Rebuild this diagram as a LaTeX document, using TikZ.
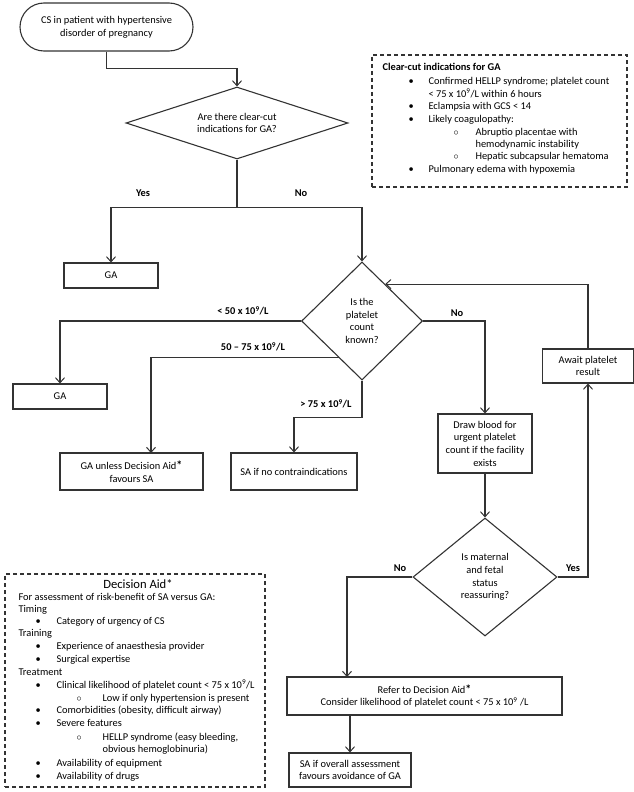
\documentclass[tikz,border=0pt]{standalone}
\usepackage{fontspec}
\setmainfont{Carlito}
\usetikzlibrary{shapes.geometric,arrows.meta,calc}
\begin{document}
\begin{tikzpicture}[x=1pt,y=-1pt,
  font=\fontsize{10.4}{12.7}\selectfont,
  line width=1.1pt,
  arr/.style={draw=black!80, line width=1.1pt, -{Straight Barb[length=5pt,width=9pt,line width=1pt]}},
  box/.style={draw=black!80, line width=1.1pt, rectangle, inner sep=0pt, align=center},
  dia/.style={draw=black!80, line width=1.1pt, diamond, inner sep=0pt, align=center},
  lbl/.style={font=\fontsize{10.4}{12}\selectfont\bfseries, inner sep=0pt},
  txt/.style={anchor=mid west, inner sep=0pt},
  dbox/.style={draw=black!80, line width=1.1pt, dash pattern=on 4pt off 3pt, rectangle, inner sep=0pt}
]
\useasboundingbox (0,0) rectangle (634,792);

% main nodes
\node[box, minimum width=173pt, minimum height=48pt, rounded corners=24pt] (start) at (106.5,27) {CS in patient with hypertensive\\disorder of pregnancy};
\node[dia, shape aspect=3.08, minimum width=222pt, minimum height=72pt] (d1) at (237,123) {Are there clear-cut\\indications for GA?};
\node[box, minimum width=94pt, minimum height=25pt] (ga1) at (111,275.5) {GA};
\node[dia, shape aspect=1.02, minimum width=121pt, minimum height=118pt] (d2) at (362,321) {Is the\\platelet\\count\\known?};
\node[box, minimum width=94pt, minimum height=25pt] (ga2) at (60,396.5) {GA};
\node[box, minimum width=143pt, minimum height=37pt] (gaun) at (131.5,471.5) {GA unless Decision Aid{\bfseries\large *}\\favours SA};
\node[box, minimum width=126pt, minimum height=37pt] (sano) at (294,471.5) {SA if no contraindications};
\node[box, minimum width=94pt, minimum height=59pt] (drawb) at (485,443.5) {Draw blood for\\urgent platelet\\count if the facility\\exists};
\node[box, minimum width=91pt, minimum height=34pt] (await) at (588,366) {Await platelet\\result};
\node[dia, shape aspect=1.22, minimum width=144pt, minimum height=118pt] (d3) at (485,577) {Is maternal\\and fetal\\status\\reassuring?};
\node[box, minimum width=275pt, minimum height=38pt] (refer) at (424.5,696) {Refer to Decision Aid{\bfseries\large *}\\Consider likelihood of platelet count < 75 x 10\textsuperscript{9} /L};
\node[box, minimum width=122pt, minimum height=34pt] (safin) at (350,770) {SA if overall assessment\\favours avoidance of GA};

% clear-cut box
\node[dbox, minimum width=255pt, minimum height=132pt] (cc) at (499.5,121) {};
\node[txt, font=\fontsize{10.4}{12}\selectfont\bfseries] (cct) at (382,68) {Clear-cut indications for GA};
\node[txt] (ccb1) at (408,82) {•};
\node[txt] (cc1) at (428,82) {Confirmed HELLP syndrome; platelet count};
\node[txt] (cc1b) at (428,95) {< 75 x 10\textsuperscript{9}/L within 6 hours};
\node[txt] (ccb2) at (408,107.5) {•};
\node[txt] (cc2) at (428,107.5) {Eclampsia with GCS < 14};
\node[txt] (ccb3) at (408,120) {•};
\node[txt] (cc3) at (428,120) {Likely coagulopathy:};
\node[txt] (ccs1) at (453,133) {$\circ$};
\node[txt] (cc4) at (475,133) {Abruptio placentae with};
\node[txt] (cc4b) at (475,145) {hemodynamic instability};
\node[txt] (ccs2) at (453,157.5) {$\circ$};
\node[txt] (cc5) at (475,157.5) {Hepatic subcapsular hematoma};
\node[txt] (ccb4) at (408,170) {•};
\node[txt] (cc6) at (428,170) {Pulmonary edema with hypoxemia};

% decision aid box
\node[dbox, minimum width=260pt, minimum height=213pt] (aid) at (135,680.5) {};
\node[inner sep=0pt, anchor=mid, font=\fontsize{12.6}{13}\selectfont] (aidt) at (138,586) {Decision Aid*};
\node[txt] (a1) at (18,598) {For assessment of risk-benefit of SA versus GA:};
\node[txt] (a2) at (18,610) {Timing};
\node[txt] (ab1) at (35,622.5) {•};
\node[txt] (a3) at (56,622.5) {Category of urgency of CS};
\node[txt] (a4) at (18,634.5) {Training};
\node[txt] (ab2) at (35,647) {•};
\node[txt] (a5) at (56,647) {Experience of anaesthesia provider};
\node[txt] (ab3) at (35,660) {•};
\node[txt] (a6) at (56,660) {Surgical expertise};
\node[txt] (a7) at (18,673) {Treatment};
\node[txt] (ab4) at (35,686) {•};
\node[txt] (a8) at (56,686) {Clinical likelihood of platelet count < 75 x 10\textsuperscript{9}/L};
\node[txt] (as1) at (76,699) {$\circ$};
\node[txt] (a9) at (102,699) {Low if only hypertension is present};
\node[txt] (ab5) at (35,711.5) {•};
\node[txt] (a10) at (56,711.5) {Comorbidities (obesity, difficult airway)};
\node[txt] (ab6) at (35,724) {•};
\node[txt] (a11) at (56,724) {Severe features};
\node[txt] (as2) at (76,738) {$\circ$};
\node[txt] (a12) at (102,738) {HELLP syndrome (easy bleeding,};
\node[txt] (a12b) at (102,750) {obvious hemoglobinuria)};
\node[txt] (ab7) at (35,764) {•};
\node[txt] (a13) at (56,764) {Availability of equipment};
\node[txt] (ab8) at (35,777) {•};
\node[txt] (a14) at (56,777) {Availability of drugs};

% labels
\node[lbl] (lyes1) at (143,193) {Yes};
\node[lbl] (lno1) at (301,193) {No};
\node[lbl] (l50) at (243,311) {< 50 x 10\textsuperscript{9}/L};
\node[lbl] (l5075) at (253,347) {50 – 75 x 10\textsuperscript{9}/L};
\node[lbl] (l75) at (326,404) {> 75 x 10\textsuperscript{9}/L};
\node[lbl] (lno2) at (457,313) {No};
\node[lbl] (lno3) at (400,568) {No};
\node[lbl] (lyes3) at (573,568) {Yes};

% helper coordinates
\coordinate (gauin) at (151,453);
\coordinate (referin) at (347,677);
\coordinate (d2mid) at ($(d2.west)!0.62!(d2.south)$);
\coordinate (d2ret) at ($(d2.north)!0.38!(d2.east)$);

% connectors
\draw[arr] (start.south) -- ++(0,17) -| (d1.north);
\draw[arr] (d1.south) -- ++(0,48) -| (ga1.north);
\draw[arr] (d1.south) -- ++(0,48) -| (d2.north);
\draw[arr] (d2.west) -| (ga2.north);
\draw[arr] (d2mid) -| (gauin);
\draw[arr] (d2.south) -- ++(0,37) -| (sano.north);
\draw[arr] (d2.east) -| (drawb.north);
\draw[arr] (drawb.south) -- (d3.north);
\draw[arr] (d3.east) -| (await.south);
\draw[arr] (await.north) |- (d2ret);
\draw[arr] (d3.west) -| (referin);
\draw[arr] (refer.south -| safin.north) -- (safin.north);
\end{tikzpicture}
\end{document}
